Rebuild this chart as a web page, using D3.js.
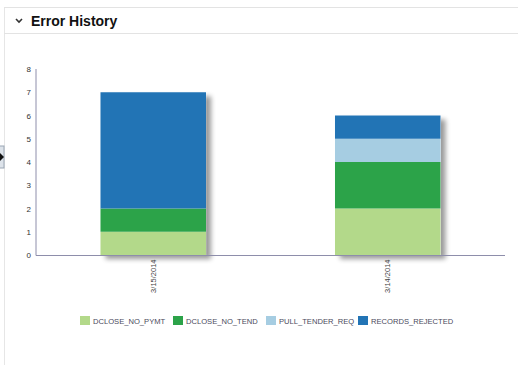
<!DOCTYPE html>
<html>
<head>
<meta charset="utf-8">
<script src="https://cdn.jsdelivr.net/npm/d3@7"></script>
<style>
	body { margin: 0; background: #fff; font-family: "Liberation Sans", Arial, sans-serif; }
	svg { display: block; }
</style>
</head>
<body>
<div class="container"></div>
<script>
// chart data
var dates = ["3/15/2014", "3/14/2014"];
var seriesNames = ["DCLOSE_NO_PYMT", "DCLOSE_NO_TEND", "PULL_TENDER_REQ", "RECORDS_REJECTED"];
var seriesColors = ["#b3d98a", "#2ca349", "#a6cde2", "#2274b5"];
var dcloseNoPymt = [1, 2];
var dcloseNoTend = [1, 2];
var pullTenderReq = [0, 1];
var recordsRejected = [5, 1];
var yTicks = [0, 1, 2, 3, 4, 5, 6, 7, 8];

var W = 518, H = 365;
var svg = d3.select('.container').append("svg")
	.attr("width", W)
	.attr("height", H);

// drop shadow for the bars
var defs = svg.append("defs");
var f = defs.append("filter").attr("id", "shadow")
	.attr("x", "-10%").attr("y", "-10%").attr("width", "130%").attr("height", "130%");
f.append("feGaussianBlur").attr("in", "SourceAlpha").attr("stdDeviation", 2.5).attr("result", "blur");
f.append("feOffset").attr("in", "blur").attr("dx", 5).attr("dy", 4).attr("result", "off");
f.append("feComponentTransfer").attr("in", "off").attr("result", "soft")
	.append("feFuncA").attr("type", "linear").attr("slope", 0.4);
var merge = f.append("feMerge");
merge.append("feMergeNode").attr("in", "soft");
merge.append("feMergeNode").attr("in", "SourceGraphic");

// panel frame
svg.append("line").attr("x1", 4.5).attr("x2", 4.5).attr("y1", 7).attr("y2", H)
	.attr("stroke", "#e6e6e6");
svg.append("line").attr("x1", 4).attr("x2", W).attr("y1", 7.5).attr("y2", 7.5)
	.attr("stroke", "#e3e3e3");
svg.append("line").attr("x1", 4).attr("x2", W).attr("y1", 33.5).attr("y2", 33.5)
	.attr("stroke", "#e3e3e3");

// header
svg.append("path").attr("d", "M16,19 L19,22 L22,19")
	.attr("fill", "none").attr("stroke", "#333").attr("stroke-width", 1.6);
svg.append("text").attr("x", 31).attr("y", 26)
	.attr("font-size", 14).attr("font-weight", "bold").attr("fill", "#111")
	.text("Error History");

// side collapse handle
svg.append("rect").attr("x", -1).attr("y", 146).attr("width", 5).attr("height", 22)
	.attr("fill", "#dde3ea").attr("stroke", "#9aa6b4");
svg.append("path").attr("d", "M0,153 L4,157 L0,161 Z").attr("fill", "#111");

// scales
var plotLeft = 36, plotRight = 505, plotTop = 69, plotBottom = 255;
var x = d3.scaleBand().domain(dates).range([plotLeft, plotRight]).paddingInner(0.55).paddingOuter(0.275);
var y = d3.scaleLinear().domain([0, 8]).range([plotBottom, plotTop]);

var rows = dates.map(function (d, i) {
	return {
		date: d,
		DCLOSE_NO_PYMT: dcloseNoPymt[i],
		DCLOSE_NO_TEND: dcloseNoTend[i],
		PULL_TENDER_REQ: pullTenderReq[i],
		RECORDS_REJECTED: recordsRejected[i]
	};
});
var stacked = d3.stack().keys(seriesNames)(rows);

function total (d) {
	return d3.sum(seriesNames, function (k) { return d[k]; });
}

// shadows, one per bar (full stack)
svg.append("g").selectAll("rect")
	.data(rows)
	.enter().append("rect")
		.attr("x", function (d) { return x(d.date); })
		.attr("width", x.bandwidth())
		.attr("y", function (d) { return y(total(d)); })
		.attr("height", function (d) { return plotBottom - y(total(d)); })
		.attr("fill", "#fff")
		.attr("filter", "url(#shadow)");

// stacked bars
svg.append("g").selectAll("g")
	.data(stacked)
	.enter().append("g")
		.attr("fill", function (d, i) { return seriesColors[i]; })
	.selectAll("rect")
	.data(function (d) { return d; })
	.enter().append("rect")
		.attr("x", function (d) { return x(d.data.date); })
		.attr("width", x.bandwidth())
		.attr("y", function (d) { return y(d[1]); })
		.attr("height", function (d) { return y(d[0]) - y(d[1]); });

// axes
var axisColor = "#8e8eab";
var yAxis = svg.append("g").attr("transform", "translate(" + plotLeft + ",0)")
	.call(d3.axisLeft(y).tickValues(yTicks).tickSize(0).tickPadding(5));
yAxis.select(".domain").attr("stroke", axisColor).attr("d", "M0," + plotTop + "V" + (plotBottom + 0.5));
yAxis.selectAll("text").attr("font-size", 8).attr("fill", "#333")
	.attr("font-family", "'Liberation Sans', Arial, sans-serif");

var xAxis = svg.append("g").attr("transform", "translate(0," + (plotBottom + 0.5) + ")")
	.call(d3.axisBottom(x).tickSize(0));
xAxis.select(".domain").attr("stroke", axisColor).attr("d", "M" + plotLeft + ",0H" + plotRight);
xAxis.selectAll("text")
	.attr("font-size", 7.5).attr("fill", "#444")
	.attr("font-family", "'Liberation Sans', Arial, sans-serif")
	.attr("transform", "rotate(-90)")
	.attr("text-anchor", "end")
	.attr("x", -4)
	.attr("y", 0)
	.attr("dy", "0.32em");

// legend
var legendX = [80, 173, 266, 358];
var legend = svg.append("g").selectAll("g")
	.data(seriesNames)
	.enter().append("g")
		.attr("transform", function (d, i) { return "translate(" + legendX[i] + ",316)"; });
legend.append("rect").attr("width", 10).attr("height", 9)
	.attr("fill", function (d, i) { return seriesColors[i]; });
legend.append("text").attr("x", 13).attr("y", 8)
	.attr("font-size", 7.6).attr("fill", "#4a4a5c")
	.text(function (d) { return d; });
</script>
</body>
</html>
